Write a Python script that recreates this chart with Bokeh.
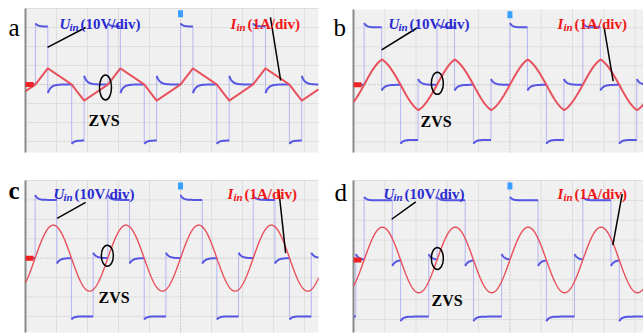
import numpy as np
from bokeh.plotting import figure
from bokeh.layouts import column, row
from bokeh.models import Label, Range1d, BoxAnnotation
from bokeh.embed import file_html
from bokeh.resources import INLINE

# ---------------- data (units: scope divisions) ----------------
panel_names = ["a", "b", "c", "d"]
voltage_name = "U"
current_name = "I"
subscript = "in"
voltage_scale = "(10V/div)"
current_scale = "(1A/div)"
zvs_text = "ZVS"

period_div = [2.34, 2.33, 2.345, 2.33]      # switching period
pulse_div = [0.40, 0.56, 0.70, 0.90]        # width of the +U / -U pulse
v_high_start = [3.22, 3.25, 3.25, 3.17]
v_high_end = [3.05, 3.02, 3.00, 3.00]
v_low_start = [-3.13, -3.10, -3.16, -3.08]
v_low_end = [-2.95, -2.90, -3.00, -2.85]
v_zero_hook = [0.45, 0.30, 0.28, 0.30]
i_peak_div = [0.85, 1.33, 1.70, 1.65]
i_peak_time_div = [0.40, 0.57, 0.586, 0.583]
i_roundness = [0.0, 0.55, 1.0, 1.0]

# ---------------- layout / annotation placement (text positions in page pixels) ----------------
LAYOUT = {
    "a": dict(w=320, h=165, bl=25, br=2, bt=8, bb=13, x=(-5, 4.45), y=(-3.58, 4.0),
              U=(59, 23), I=(230, 23), Z=(88, 120), let=(8, 27),
              bl_line=((-3.06, -4.29), (3.0, 1.95)), rl_line=((2.90, 3.23), (3.53, 0.21)),
              ell=(-2.42, -0.16, 12, 25), bold=False),
    "b": dict(w=323, h=165, bl=33, br=0, bt=9, bb=13, x=(-5, 4.27), y=(-3.56, 3.96),
              U=(68, 23), I=(237, 23), Z=(100, 121), let=(13, 27),
              bl_line=((-2.96, -4.10), (3.0, 1.84)), rl_line=((3.0, 3.30), (3.12, 0.19)),
              ell=(-2.32, 0.08, 12, 22), bold=False),
    "c": dict(w=320, h=168, bl=25, br=2, bt=15, bb=1, x=(-5, 4.45), y=(-3.83, 4.0),
              U=(53, 28), I=(227, 28), Z=(98, 132), let=(8, 25),
              bl_line=((-3.06, -3.98), (2.87, 2.05)), rl_line=((3.17, 3.39), (3.5, 0.26)),
              ell=(-2.36, 0.13, 12, 21), bold=True),
    "d": dict(w=323, h=168, bl=33, br=0, bt=15, bb=1, x=(-5, 4.27), y=(-3.65, 4.0),
              U=(63, 28), I=(237, 28), Z=(111, 135), let=(14, 27),
              bl_line=((-3.01, -3.78), (2.92, 2.05)), rl_line=((3.59, 3.29), (3.33, 0.75)),
              ell=(-2.32, 0.08, 12, 22), bold=False),
}

SERIF = "Liberation Serif"
BLUE_TXT = "#2a2ad0"
RED_TXT = "#f01818"
V_THICK = "#5656e2"
V_THIN = "#b4b6f2"
I_COL = "#e8505c"
GRID = "#dedede"


def voltage_segments(k, T, tv, vh0, vh1, vl0, vl1, hook):
    t0 = k * T
    n = 40
    segs = []
    tau = 0.08
    tz = 0.10
    u = np.linspace(0, tv, n)
    segs.append((t0 + u, vh1 + (vh0 - vh1) * np.exp(-u / tau)))
    u = np.linspace(0, T / 2 - tv, n)
    segs.append((t0 + tv + u, -hook * np.exp(-u / tz)))
    u = np.linspace(0, tv, n)
    segs.append((t0 + T / 2 + u, vl1 + (vl0 - vl1) * np.exp(-u / tau)))
    u = np.linspace(0, T / 2 - tv, n)
    segs.append((t0 + T / 2 + tv + u, hook * np.exp(-u / tz)))
    return segs


def current_wave(t, T, A, tp, w):
    half = T / 2
    ph = np.mod(t, T)
    s = np.where(ph < half, 1.0, -1.0)
    u = np.mod(ph, half)
    rise = u < tp
    r1 = np.clip(u / tp, 0, 1)
    r2 = np.clip((u - tp) / (half - tp), 0, 1)
    f_rise = (1 - w) * r1 + w * np.sin(np.pi / 2 * r1)
    f_fall = (1 - w) * (1 - r2) + w * np.cos(np.pi / 2 * r2)
    return s * A * np.where(rise, f_rise, f_fall)


def make_panel(idx):
    name = panel_names[idx]
    L = LAYOUT[name]
    sx0, sx1 = L["x"]
    sy0, sy1 = L["y"]
    W, H = L["w"], L["h"]
    fw = W - L["bl"] - L["br"]
    fh = H - L["bt"] - L["bb"]
    dx = fw / (sx1 - sx0)
    dy = fh / (sy1 - sy0)
    xr = Range1d(sx0 - L["bl"] / dx, sx1 + L["br"] / dx)
    yr = Range1d(sy0 - L["bb"] / dy, sy1 + L["bt"] / dy)
    p = figure(width=W, height=H, x_axis_type=None, y_axis_type=None,
               x_range=xr, y_range=yr, toolbar_location=None, output_backend="svg",
               min_border_left=0, min_border_right=0, min_border_top=0, min_border_bottom=0)
    p.background_fill_color = "white"
    p.border_fill_color = "white"
    p.outline_line_color = None

    # scope screen
    p.add_layout(BoxAnnotation(left=sx0, right=sx1, bottom=sy0, top=sy1,
                               fill_color="#f0f0f0", fill_alpha=1, line_color=None,
                               level="underlay"))
    gx = np.arange(np.ceil(sx0), np.floor(sx1) + 1)
    gy = np.arange(np.ceil(sy0), np.floor(sy1) + 1)
    gx = gx[gx != 0]
    gy = gy[gy != 0]
    p.segment(x0=gx, y0=[sy0] * len(gx), x1=gx, y1=[sy1] * len(gx), line_color=GRID, line_width=1)
    p.segment(x0=[sx0] * len(gy), y0=gy, x1=[sx1] * len(gy), y1=gy, line_color=GRID, line_width=1)
    p.segment(x0=[sx0, 0], y0=[0, sy0], x1=[sx1, 0], y1=[0, sy1], line_color="#a6a6a6",
              line_dash="1 2", line_width=1)
    p.segment(x0=[sx0], y0=[sy0], x1=[sx0], y1=[sy1], line_color="#8a8a8a", line_width=2)

    T = period_div[idx]
    kmin = int(np.floor(sx0 / T)) - 1
    kmax = int(np.ceil(sx1 / T)) + 1
    xs_all, ys_all, thick_x, thick_y = [], [], [], []
    for k in range(kmin, kmax):
        for sx, sy in voltage_segments(k, T, pulse_div[idx], v_high_start[idx], v_high_end[idx],
                                       v_low_start[idx], v_low_end[idx], v_zero_hook[idx]):
            m = (sx >= sx0) & (sx <= sx1)
            if m.sum() < 2:
                continue
            xs_all.append(sx[m])
            ys_all.append(sy[m])
            thick_x.append(list(sx[m]))
            thick_y.append(list(sy[m]))
    p.line(np.concatenate(xs_all), np.concatenate(ys_all), line_color=V_THIN, line_width=1)
    p.multi_line(thick_x, thick_y, line_color=V_THICK, line_width=2)

    t = np.linspace(sx0, sx1, 2500)
    i = current_wave(t, T, i_peak_div[idx], i_peak_time_div[idx], i_roundness[idx])
    p.line(t, i, line_color=I_COL, line_width=2 if idx < 2 else 1.4)

    # scope markers
    p.rect(x=[sx0 + 0.13], y=[0], width=8, height=5, width_units="screen",
           height_units="screen", fill_color="#ee2222", line_color=None)
    p.rect(x=[0], y=[sy1 - 0.28], width=5, height=7, width_units="screen",
           height_units="screen", fill_color="#39a0ff", line_color=None)

    # leader lines and ellipse
    p.line(list(L["bl_line"][0]), list(L["bl_line"][1]), line_color="black", line_width=1.5)
    p.line(list(L["rl_line"][0]), list(L["rl_line"][1]), line_color="black", line_width=1.5)
    ex, ey, ew, eh = L["ell"]
    p.ellipse(x=[ex], y=[ey], width=ew, height=eh, width_units="screen", height_units="screen",
              fill_color=None, line_color="black", line_width=1.5)

    def lab(pos, text, color, size, style, xo=0, yo=0):
        px, py = pos
        p.add_layout(Label(x=px + xo, y=H - py + yo, x_units="screen", y_units="screen",
                           text=text, text_color=color, text_font=SERIF,
                           text_font_size=size, text_font_style=style,
                           text_baseline="alphabetic", text_align="left"))

    lab(L["U"], voltage_name, BLUE_TXT, "15px", "bold italic")
    lab(L["U"], subscript, BLUE_TXT, "11px", "bold italic", xo=10, yo=-3)
    lab(L["U"], voltage_scale, BLUE_TXT, "15px", "bold", xo=21)
    lab(L["I"], current_name, RED_TXT, "15px", "bold italic")
    lab(L["I"], subscript, RED_TXT, "11px", "bold italic", xo=6, yo=-3)
    lab(L["I"], current_scale, RED_TXT, "15px", "bold", xo=17)
    lab(L["Z"], zvs_text, "black", "16px", "bold")
    lab(L["let"], name, "black", "25px", "bold" if L["bold"] else "normal")
    return p


figs = [make_panel(i) for i in range(4)]
layout = column(row(figs[0], figs[1]), row(figs[2], figs[3]))
open("out.html", "w").write(file_html(layout, INLINE))
